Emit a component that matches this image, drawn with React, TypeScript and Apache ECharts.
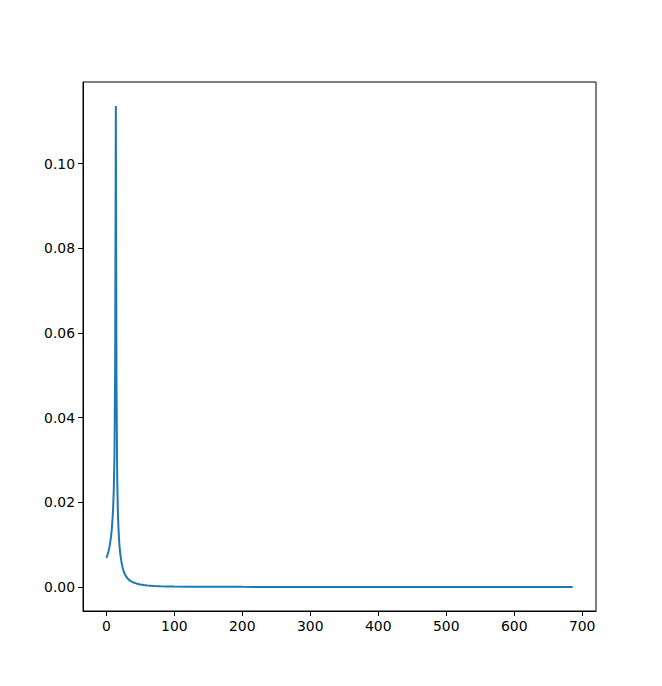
import React, { useEffect, useRef } from "react";
import * as echarts from "echarts";

const xValues = [
  0, 1, 2, 3, 4, 5, 6, 7, 8, 9, 10, 11, 12, 13, 14, 15, 16, 17, 18, 19, 20,
  21, 22, 23, 24, 25, 26, 27, 28, 29, 30, 32, 34, 36, 38, 40, 45, 50, 55, 60,
  70, 80, 90, 100, 120, 150, 200, 250, 300, 400, 500, 600, 686,
];
const yValues = [
  0.0069, 0.0072, 0.0077, 0.0083, 0.009, 0.0098, 0.0108, 0.012, 0.0136,
  0.0157, 0.0186, 0.023, 0.031, 0.052, 0.1136, 0.048, 0.026, 0.0175, 0.0135,
  0.0105, 0.0086, 0.0073, 0.0062, 0.0053, 0.0046, 0.004, 0.0035, 0.0031,
  0.0028, 0.0025, 0.0023, 0.0019, 0.0016, 0.0014, 0.0012, 0.00105, 0.00078,
  0.0006, 0.00046, 0.00036, 0.00024, 0.00017, 0.00012, 0.00009, 0.00006,
  0.00004, 0.00002, 0.000015, 0.00001, 0.000006, 0.000004, 0.000003,
  0.000002,
];
const xTicks = [0, 100, 200, 300, 400, 500, 600, 700];
const yTicks = [0, 0.02, 0.04, 0.06, 0.08, 0.1];

export default function App() {
  const ref = useRef<HTMLDivElement>(null);
  useEffect(() => {
    if (!ref.current) return;
    const chart = echarts.init(ref.current, null, { renderer: "svg" });
    const labelStyle = {
      color: "#000",
      fontFamily: "DejaVu Sans",
      fontSize: 13.9,
    };
    chart.setOption({
      animation: false,
      backgroundColor: "#fff",
      grid: {
        left: 83,
        right: 66,
        top: 82,
        bottom: 75,
        show: true,
        borderColor: "#000",
        borderWidth: 1,
        containLabel: false,
      },
      xAxis: {
        type: "value",
        min: -34.3,
        max: 720.3,
        splitLine: { show: false },
        axisLine: { onZero: false, lineStyle: { color: "#000", width: 1 } },
        axisTick: {
          show: true,
          length: 5,
          customValues: xTicks,
          lineStyle: { color: "#000", width: 1 },
        },
        axisLabel: {
          ...labelStyle,
          margin: 8,
          customValues: xTicks,
          formatter: (v: number) => String(v),
        },
      },
      yAxis: {
        type: "value",
        min: -0.00568,
        max: 0.11928,
        splitLine: { show: false },
        axisLine: { onZero: false, lineStyle: { color: "#000", width: 1 } },
        axisTick: {
          show: true,
          length: 5,
          customValues: yTicks,
          lineStyle: { color: "#000", width: 1 },
        },
        axisLabel: {
          ...labelStyle,
          margin: 8,
          customValues: yTicks,
          formatter: (v: number) => v.toFixed(2),
        },
      },
      series: [
        {
          type: "line",
          data: xValues.map((x, i) => [x, yValues[i]]),
          showSymbol: false,
          symbol: "none",
          lineStyle: { color: "#1f77b4", width: 2 },
          itemStyle: { color: "#1f77b4" },
        },
      ],
    });
    return () => chart.dispose();
  }, []);
  return (
    <div
      ref={ref}
      style={{ position: "fixed", left: 0, top: 0, width: 662, height: 686 }}
    />
  );
}
